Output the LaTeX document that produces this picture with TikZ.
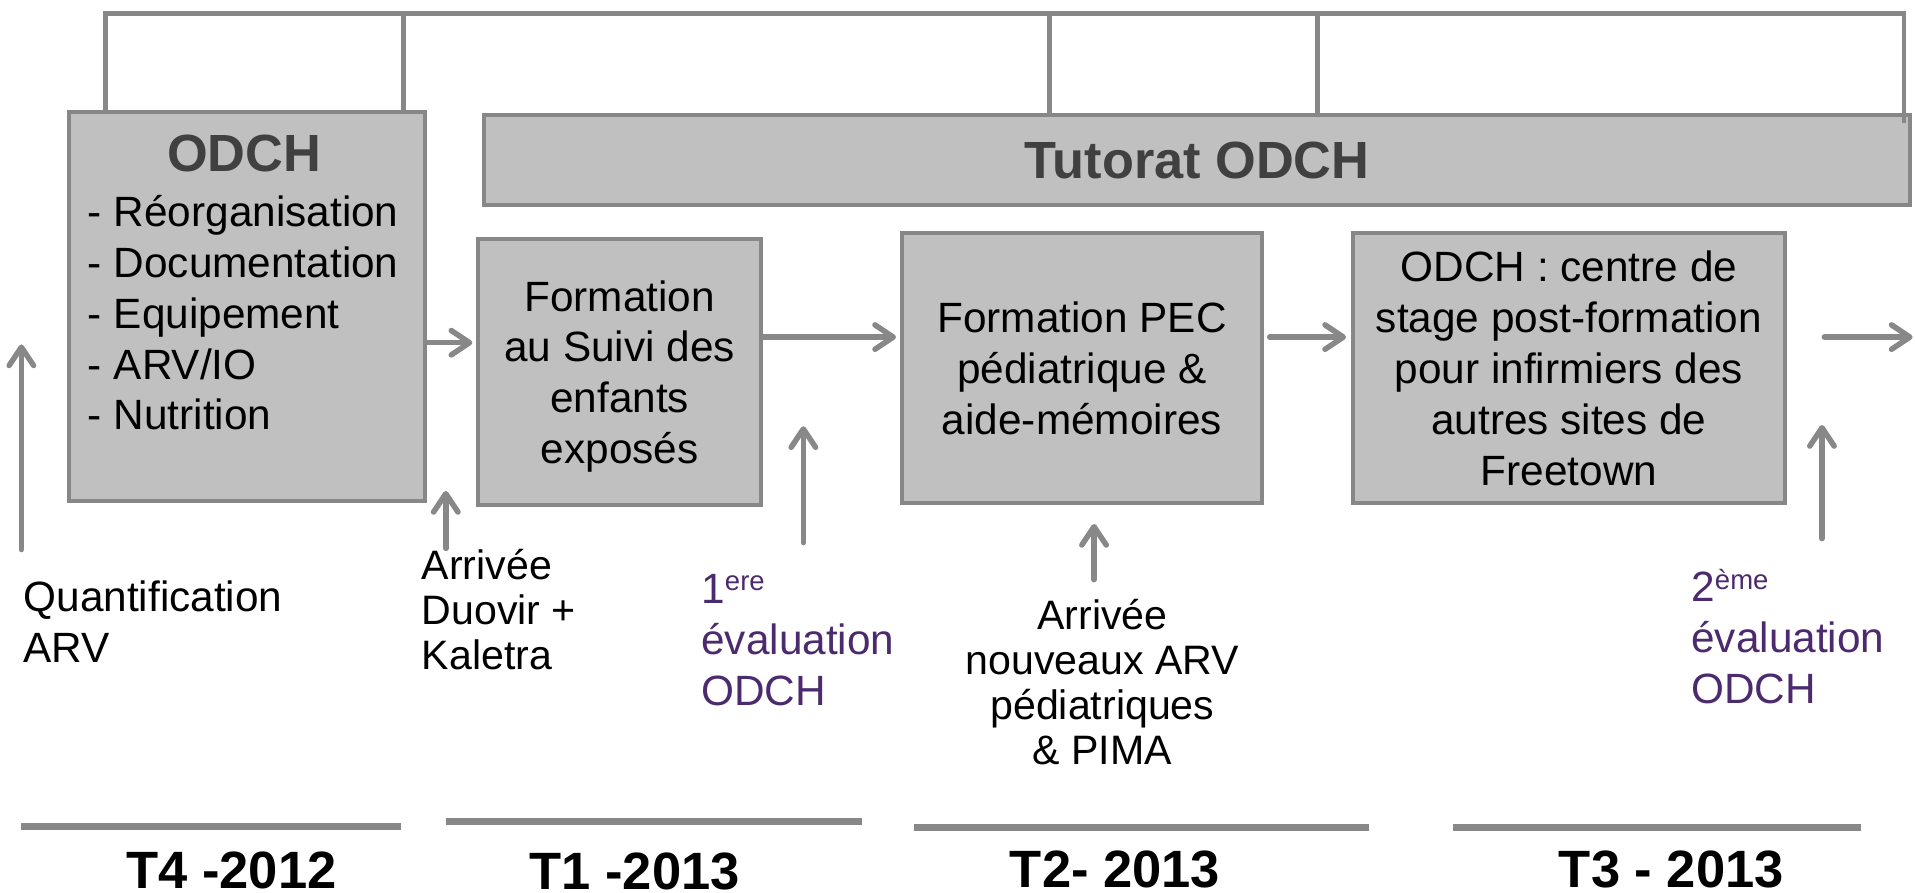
\documentclass[tikz,border=0pt]{standalone}
\usepackage{fontspec}
\setmainfont{Liberation Sans}
\usetikzlibrary{arrows.meta}
\definecolor{boxfill}{HTML}{C0C0C0}
\definecolor{boxline}{HTML}{878787}
\definecolor{linkgray}{HTML}{888888}
\definecolor{titlegray}{HTML}{404040}
\definecolor{evalpurple}{HTML}{4B2A6E}
\begin{document}
\begin{tikzpicture}[x=0.6pt,y=-0.6pt,
  box/.style={draw=boxline, fill=boxfill, line width=2pt, inner sep=0pt, align=center,
              font=\fontsize{20.8}{25}\selectfont},
  heading/.style={font=\fontsize{25.7}{28}\selectfont\bfseries, text=titlegray},
  link/.style={draw=linkgray, line width=2.4pt},
  arr/.style={draw=linkgray, line width=2.7pt, line cap=round,
              -{Straight Barb[length=9pt,width=12pt,round]}},
  rule/.style={draw=linkgray, line width=3.3pt},
  body/.style={font=\fontsize{20.8}{25}\selectfont, inner sep=0pt, align=left},
  note/.style={font=\fontsize{20.2}{22}\selectfont, inner sep=0pt},
  eval/.style={font=\fontsize{20.8}{25}\selectfont, text=evalpurple, inner sep=0pt, align=left},
  period/.style={font=\fontsize{25.8}{28}\selectfont\bfseries, inner sep=0pt, anchor=base},
]
\useasboundingbox (0,0) rectangle (1568,731);

% --- main boxes (multi-line labels are placed by the baseline of their last line) ---
\node[box, minimum width=174.96pt, minimum height=191.28pt] (odch) at (202,251) {};
\node[heading, inner sep=0pt, anchor=base] (odchtitle) at (200,140.6) {ODCH};
\node[body, anchor=base west] (odchlist) at (71.7,352)
  {- Réorganisation\\- Documentation\\- Equipement\\- ARV/IO\\- Nutrition};

\node[box, heading, minimum width=700.62pt, minimum height=43.92pt] (tut) at (980.2,131) {Tutorat ODCH};

\node[box, text depth=0pt, minimum width=139.2pt, minimum height=131.04pt] (f1) at (507.4,304.6)
  {Formation\\au Suivi des\\enfants\\exposés};
\node[box, minimum width=176.7pt, minimum height=132.78pt] (f2) at (885.9,301.5)
  {Formation PEC\\pédiatrique \&\\aide-mémoires};
\node[box, minimum width=212.16pt, minimum height=132.78pt] (f3) at (1284.6,301.5)
  {ODCH : centre de\\stage post-formation\\pour infirmiers des\\autres sites de\\Freetown};

% --- bracket linking the boxes along the top ---
\coordinate (tl) at (86.2,10.9);
\coordinate (tr) at (1559,10.9);
\coordinate (v2) at (330.5,10.9);
\coordinate (v3) at (859,10.9);
\coordinate (v4) at (1079,10.9);
\coordinate (rend) at (1559,101);
\draw[link] (odch.north -| tl) -- (tl) -- (tr) -- (rend);
\draw[link] (odch.north -| v2) -- (v2);
\draw[link] (tut.north -| v3) -- (v3);
\draw[link] (tut.north -| v4) -- (v4);

% --- flow arrows between boxes ---
\coordinate (y1) at (0,280.6);
\coordinate (y2) at (0,276);
\coordinate (out) at (1566,276);
\draw[arr] (odch.east |- y1) -- ([xshift=-1.8pt]f1.west |- y1);
\draw[arr] (f1.east |- y2) -- ([xshift=-2pt]f2.west |- y2);
\draw[arr] ([xshift=2.9pt]f2.east |- y2) -- ([xshift=-2.4pt]f3.west |- y2);
\draw[arr] ([xshift=18.4pt]f3.east |- y2) -- (out);

% --- event labels ---
\node[body, anchor=base west] (quant) at (19,542.6) {Quantification\\ARV};
\node[note, align=left, anchor=base west] (arr1) at (345,548) {Arrivée\\Duovir +\\Kaletra};
\node[eval, anchor=base west] (eval1) at (574,577.3)
  {1\raisebox{6.2pt}{\fontsize{13.5}{13.5}\selectfont ere}\\évaluation\\ODCH};
\node[note, align=center, anchor=base] (arr2) at (902.6,625.6)
  {Arrivée\\nouveaux ARV\\pédiatriques\\\& PIMA};
\node[eval, anchor=base west] (eval2) at (1384.6,576)
  {2\raisebox{6.2pt}{\fontsize{13.5}{13.5}\selectfont ème}\\évaluation\\ODCH};

% --- event arrows ---
\coordinate (a0s) at (17.5,450);   \coordinate (a0e) at (17.5,282);
\coordinate (a1s) at (365,449);    \coordinate (a1e) at (365,402);
\coordinate (a2s) at (657.8,444.3); \coordinate (a2e) at (657.8,349);
\coordinate (a3s) at (895.8,474.6); \coordinate (a3e) at (895.8,429);
\coordinate (a4s) at (1491.8,441); \coordinate (a4e) at (1491.8,348);
\draw[arr] (a0s) -- (a0e);
\draw[arr] (a1s) -- (a1e);
\draw[arr] (a2s) -- (a2e);
\draw[arr] (a3s) -- (a3e);
\draw[arr] (a4s) -- (a4e);

% --- quarter rules and labels ---
\coordinate (r1a) at (17.5,676.7);  \coordinate (r1b) at (328,676.7);
\coordinate (r2a) at (365,672.6);   \coordinate (r2b) at (706,672.6);
\coordinate (r3a) at (748.4,677.5); \coordinate (r3b) at (1121,677.5);
\coordinate (r4a) at (1190,677.5);  \coordinate (r4b) at (1523.8,677.5);
\draw[rule] (r1a) -- (r1b);
\draw[rule] (r2a) -- (r2b);
\draw[rule] (r3a) -- (r3b);
\draw[rule] (r4a) -- (r4b);

\node[period] (t4) at (189.5,727.5) {T4 -2012};
\node[period] (t1) at (519.7,728.5) {T1 -2013};
\node[period] (t2) at (913,726.5) {T2- 2013};
\node[period] (t3) at (1368.5,726.5) {T3 - 2013};
\end{tikzpicture}
\end{document}
